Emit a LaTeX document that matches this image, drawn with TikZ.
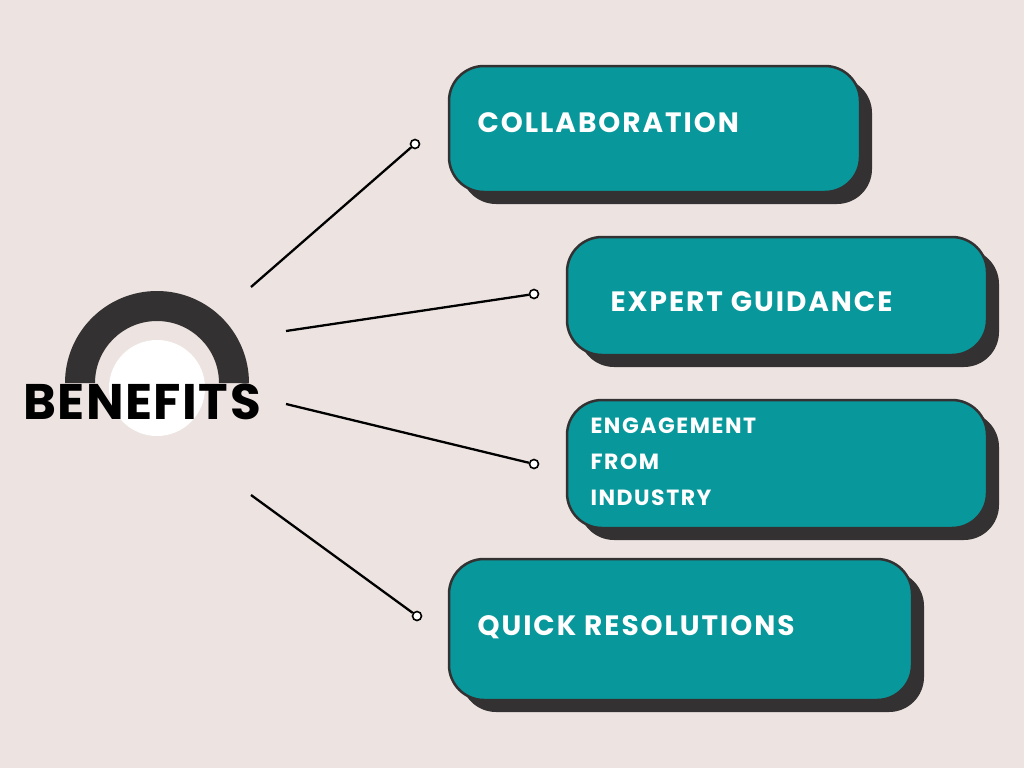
\documentclass[tikz,border=0pt]{standalone}
\usepackage{fontspec}
\setmainfont{Poppins}[LetterSpace=7]
\newfontfamily\benf{Poppins}[LetterSpace=3]
\definecolor{bg}{HTML}{EDE4E1}
\definecolor{teal}{HTML}{08979A}
\definecolor{dk}{HTML}{333132}
\begin{document}
\begin{tikzpicture}[x=1pt,y=-1pt,
 box/.style={draw=dk,line width=2.5pt,fill=teal,rounded corners=35pt},
 shadow/.style={fill=dk,rounded corners=35pt},
 lbl/.style={anchor=west,text=white,font=\bfseries\fontsize{28}{36}\selectfont,align=left},
 ln/.style={line width=2.3pt,black},
 dot/.style={circle,draw=black,line width=1.6pt,fill=white,inner sep=0pt,minimum size=9pt}]
\fill[bg] (0,0) rectangle (1024,768);
\useasboundingbox (0,0) rectangle (1024,768);
% arc
\fill[dk] (65,383) arc[start angle=180,end angle=360,radius=92] -- (219,383) arc[start angle=360,end angle=180,radius=62] -- cycle;
\fill[white] (157,388) circle (48);
\node[font=\benf\bfseries\fontsize{50}{52}\selectfont,text=black] (ben) at (142,402) {BENEFITS};
% boxes
\foreach \a/\b/\c/\d in {449/66/860/192,567/237/987/355,567/400/987/528,449/559/912/700}{
 \fill[shadow] (\a+12,\b+12) rectangle (\c+12,\d+12);
 \draw[box] (\a,\b) rectangle (\c,\d);}
\node[lbl] (b1) at (474,123) {COLLABORATION};
\node[lbl] (b2) at (607,302) {EXPERT GUIDANCE};
\node[lbl,font=\bfseries\fontsize{22}{36}\selectfont] (b3) at (587,462) {ENGAGEMENT\\FROM\\INDUSTRY};
\node[lbl] (b4) at (474,627) {QUICK RESOLUTIONS};
% connectors
\coordinate (s1) at (251,287); \coordinate (s2) at (286,331);
\coordinate (s3) at (286,404); \coordinate (s4) at (251,495);
\node[dot] (d1) at (415,144) {}; \node[dot] (d2) at (534,294) {};
\node[dot] (d3) at (534,464) {}; \node[dot] (d4) at (417,616) {};
\draw[ln] (s1) -- (d1); \draw[ln] (s2) -- (d2);
\draw[ln] (s3) -- (d3); \draw[ln] (s4) -- (d4);
\end{tikzpicture}
\end{document}
